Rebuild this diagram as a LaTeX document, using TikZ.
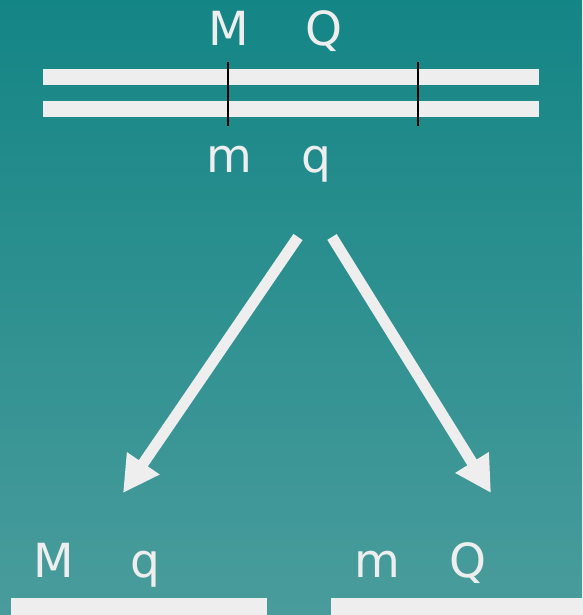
\documentclass[tikz,border=0pt]{standalone}
\usepackage{fontspec}
\setmainfont{DejaVu Sans}
\usetikzlibrary{arrows.meta}
\definecolor{bgtop}{RGB}{20,133,133}
\definecolor{bgbot}{RGB}{74,156,156}
\definecolor{fg}{RGB}{238,238,238}
\begin{document}
\begin{tikzpicture}[x=1pt,y=-1pt,
  lbl/.style={text=fg,inner sep=0pt,anchor=base,font=\fontsize{47}{47}\selectfont},
  bar/.style={fill=fg,draw=none},
  tick/.style={draw=black,line width=2pt},
  bigarrow/.style={draw=fg,line width=11pt,-{Triangle[length=36pt,width=37pt]}}]
\shade[top color=bgtop,bottom color=bgbot] (0,0) rectangle (582,615);
\useasboundingbox (0,0) rectangle (582,615);
% chromosome pair
\fill[bar] (43,69) rectangle (539,85);
\fill[bar] (43,101) rectangle (539,117);
\coordinate (t1a) at (228,62);
\coordinate (t1b) at (228,126);
\coordinate (t2a) at (418,62);
\coordinate (t2b) at (418,126);
\draw[tick] (t1a) -- (t1b);
\draw[tick] (t2a) -- (t2b);
\node[lbl] (M1) at (229,46) {M};
\node[lbl] (Q1) at (324,46) {Q};
\node[lbl] (m1) at (229,172) {m};
\node[lbl] (q1) at (316,172) {q};
% arrows
\coordinate (la) at (298,237);
\coordinate (lb) at (123,493);
\coordinate (ra) at (332,237);
\coordinate (rb) at (491,493);
\draw[bigarrow] (la) -- (lb);
\draw[bigarrow] (ra) -- (rb);
% gametes
\node[lbl] (M2) at (54,577) {M};
\node[lbl] (q2) at (145,577) {q};
\node[lbl] (m2) at (377,577) {m};
\node[lbl] (Q2) at (468,577) {Q};
\fill[bar] (11,598) rectangle (267,615);
\fill[bar] (331,598) rectangle (582,615);
\end{tikzpicture}
\end{document}
